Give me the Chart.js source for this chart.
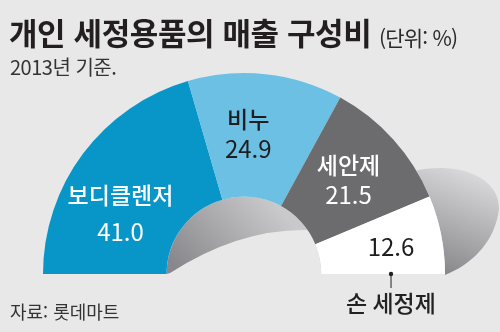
<!DOCTYPE html>
<html lang="ko">
<head>
<meta charset="utf-8">
<script src="https://cdn.jsdelivr.net/npm/chart.js@4"></script>
<style>
  html, body { margin: 0; padding: 0; }
  body {
    width: 500px; height: 332px; overflow: hidden; position: relative;
    background: #e8e8e9; font-family: "Noto Sans CJK KR", "Noto Sans", sans-serif; color: #231f20;
  }
  #chart { position: absolute; left: 0; top: 0; }
  .txt { position: absolute; white-space: nowrap; }
  #title { left: 9px; top: 16px; font-size: 31px; line-height: 31px; font-weight: 700; letter-spacing: -0.4px; }
  #unit { left: 379px; top: 27px; font-size: 21px; line-height: 21px; color: #2a2a2a; letter-spacing: -0.8px; }
  #sub { left: 10px; top: 57px; font-size: 20px; line-height: 20px; color: #333; letter-spacing: -0.5px; }
  #src { left: 10px; top: 302px; font-size: 18px; line-height: 18px; color: #333; }
</style>
</head>
<body>
<canvas id="chart" width="500" height="332"></canvas>
<div class="txt" id="title">개인 세정용품의 매출 구성비</div>
<div class="txt" id="unit">(단위: %)</div>
<div class="txt" id="sub">2013년 기준.</div>
<div class="txt" id="src">자료: 롯데마트</div>
<script>
// 2013 sales mix of personal cleansing products (%)
const categories = ['보디클렌저', '비누', '세안제', '손 세정제'];
const shares = [41.0, 24.9, 21.5, 12.6];
const sliceColors = ['#0896c8', '#6cc0e3', '#6c6c6e', '#ffffff'];
const textColors = ['#ffffff', '#1e1e20', '#ffffff', '#1e1e20'];

// where each label sits: fraction of the outer radius along the mid angle, plus a nudge
const labelPlace = [
  { f: 0.70, dx: -11, dy: 24, gap: 37 },
  { f: 0.70, dx: -11, dy: 0, gap: 29 },
  { f: 0.70, dx: 0, dy: 0, gap: 30 },
  { f: 0.746, dx: 0, dy: 2, outside: true },
];

// the gray "depth" faces: inside the hole and on the right rim
const ringShade = {
  id: 'ringShade',
  beforeDatasetsDraw(chart) {
    const arc = chart.getDatasetMeta(0).data[0];
    if (!arc) return;
    const { x, y, innerRadius: r, outerRadius: R } = arc.getProps(['x', 'y', 'innerRadius', 'outerRadius'], true);
    const ctx = chart.ctx;
    ctx.save();

    // inner wall
    let g = ctx.createLinearGradient(x + r * 0.3, y - r, x - r * 0.8, y);
    g.addColorStop(0, '#c9c9cb');
    g.addColorStop(1, '#88888c');
    ctx.beginPath();
    ctx.arc(x, y, r, Math.PI, 0);
    ctx.closePath();
    ctx.fillStyle = g;
    ctx.fill();
    // floor seen through the hole
    ctx.beginPath();
    ctx.moveTo(x - r * 0.955, y - r * 0.013);
    ctx.quadraticCurveTo(x - r * 0.065, y - r * 0.587, x + r * 0.826, y - r * 0.568);
    ctx.arc(x, y, r, Math.atan2(-0.568, 0.826), 0);
    ctx.lineTo(x - r, y);
    ctx.closePath();
    ctx.fillStyle = '#e8e8e9';
    ctx.fill();

    // outer wall on the right
    const a0 = -31 * Math.PI / 180;
    g = ctx.createLinearGradient(x + R * 1.2, y - R * 0.5, x + R * 1.0, y);
    g.addColorStop(0, '#dcdcde');
    g.addColorStop(1, '#88888c');
    ctx.beginPath();
    ctx.moveTo(x + Math.cos(a0) * R, y + Math.sin(a0) * R);
    ctx.bezierCurveTo(x + R * 1.124, y - R * 0.567, x + R * 1.299, y - R * 0.443, x + R * 1.264, y - R * 0.294);
    ctx.bezierCurveTo(x + R * 1.234, y - R * 0.144, x + R * 1.124, y - R * 0.045, x + R, y + 1);
    ctx.arc(x, y, R, 0, a0, true);
    ctx.closePath();
    ctx.fillStyle = g;
    ctx.fill();
    ctx.restore();
  }
};

// category name and value on each slice
const sliceLabels = {
  id: 'sliceLabels',
  afterDatasetsDraw(chart) {
    const ctx = chart.ctx;
    const meta = chart.getDatasetMeta(0);
    ctx.save();
    ctx.textAlign = 'center';
    ctx.textBaseline = 'middle';
    meta.data.forEach((arc, i) => {
      const p = arc.getProps(['x', 'y', 'startAngle', 'endAngle', 'outerRadius'], true);
      const mid = (p.startAngle + p.endAngle) / 2;
      const pl = labelPlace[i];
      const cx = p.x + Math.cos(mid) * p.outerRadius * pl.f + pl.dx;
      const cy = p.y + Math.sin(mid) * p.outerRadius * pl.f + pl.dy;
      const value = shares[i].toFixed(1);
      ctx.fillStyle = textColors[i];
      if (pl.outside) {
        ctx.font = '400 24px "Noto Sans CJK KR"';
        ctx.fillText(value, cx, cy);
        // leader from the base line down to the name
        ctx.strokeStyle = '#222';
        ctx.lineWidth = 1;
        ctx.beginPath();
        ctx.moveTo(cx, p.y);
        ctx.lineTo(cx, p.y + 14);
        ctx.stroke();
        ctx.fillStyle = '#222';
        ctx.beginPath();
        ctx.arc(cx, p.y, 2.2, 0, Math.PI * 2);
        ctx.fill();
        ctx.font = '500 23px "Noto Sans CJK KR"';
        ctx.fillText(categories[i], cx, p.y + 29);
      } else {
        ctx.font = '500 23px "Noto Sans CJK KR"';
        ctx.fillText(categories[i], cx, cy - pl.gap / 2);
        ctx.font = '400 24px "Noto Sans CJK KR"';
        ctx.fillText(value, cx, cy + pl.gap / 2);
      }
    });
    ctx.restore();
  }
};

function draw() {
  new Chart(document.getElementById('chart'), {
    type: 'doughnut',
    data: {
      labels: categories,
      datasets: [{
        data: shares,
        backgroundColor: sliceColors,
        borderWidth: 0,
      }],
    },
    options: {
      responsive: false,
      animation: false,
      rotation: -90,
      circumference: 180,
      cutout: '38.5%',
      layout: { padding: { left: 43, right: 55, top: 73, bottom: 58 } },
      plugins: { legend: { display: false }, tooltip: { enabled: false } },
    },
    plugins: [ringShade, sliceLabels],
  });
}

Promise.all([
  document.fonts.load('500 23px "Noto Sans CJK KR"'),
  document.fonts.load('400 24px "Noto Sans CJK KR"'),
]).then(draw, draw);
</script>
</body>
</html>
